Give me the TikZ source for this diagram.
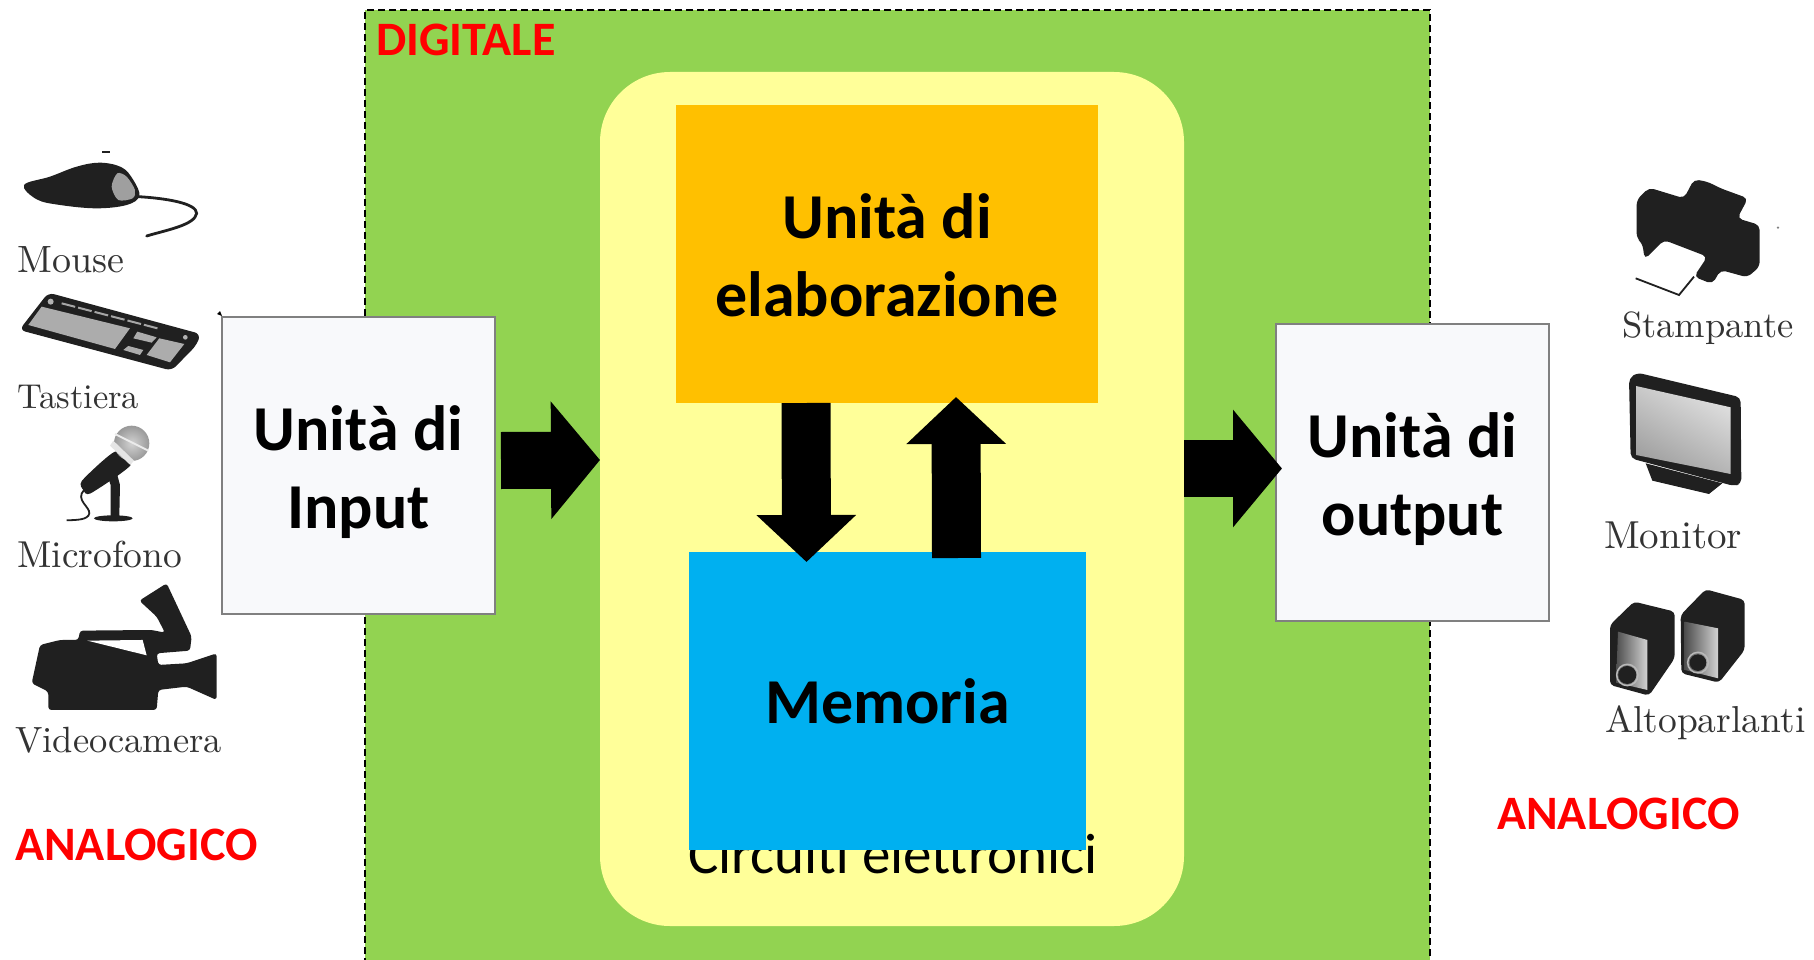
\documentclass[tikz,border=0pt]{standalone}
\usepackage{fontspec}
\usetikzlibrary{arrows.meta}
\newfontfamily\carlito{Carlito}
\newfontfamily\devfont[OpticalSize=10]{Latin Modern Roman}
\definecolor{cgreen}{HTML}{92D351}
\definecolor{cyellow}{HTML}{FFFF99}
\definecolor{corange}{HTML}{FFC000}
\definecolor{cblue}{HTML}{00B0F0}
\definecolor{cbox}{HTML}{F8F9FB}
\definecolor{ink}{HTML}{202020}
\newcommand{\tallstrut}{\rule{0pt}{59pt}}
\tikzset{
  boldlabel/.style={font=\carlito\bfseries\fontsize{64}{78}\selectfont,align=center,text=black},
  blockbox/.style={inner sep=0pt,outer sep=0pt,boldlabel},
  iobox/.style={blockbox,draw=black!50,line width=1.5pt,fill=cbox,minimum width=273pt,minimum height=297pt},
  blockarrow/.style={line width=57pt,draw=black,-{Triangle[length=49pt,width=115pt,fill=black]}},
  vblockarrow/.style={line width=49pt,draw=black,-{Triangle[length=47pt,width=97pt,fill=black]}},
  redlabel/.style={font=\carlito\bfseries\fontsize{48}{54}\selectfont,text=red,inner sep=0pt,anchor=base west},
  devlabel/.style={font=\devfont\fontsize{#1}{44}\selectfont,text=black!80,inner sep=0pt,anchor=base west},
  zoomed/.style={x=0.3333pt,y=-0.3333pt}
}
\begin{document}
\begin{tikzpicture}[x=1pt,y=-1pt]
\useasboundingbox (0,0) rectangle (1814,960);
\clip (0,0) rectangle (1814,960);
% background regions
\node[draw=black,line width=2pt,fill=cgreen,inner sep=0pt,outer sep=0pt,minimum width=1065pt,minimum height=970pt,anchor=north west,dash pattern=on 7pt off 4pt] (digital) at (365,10) {};
\node[redlabel] (dig) at (376,56) {DIGITALE};
\node[fill=cyellow,rounded corners=70pt,inner sep=0pt,outer sep=0pt,minimum width=584pt,minimum height=854pt,anchor=north west] (core) at (600,72) {};
\node[font=\carlito\fontsize{57}{70}\selectfont,inner sep=0pt,anchor=base west] (circ) at (688,873) {Circuiti elettronici};
\node[blockbox,fill=corange,minimum width=422pt,minimum height=298pt,anchor=north west] (cpu) at (676,105) {\rule{0pt}{47.5pt}Unità di\\elaborazione};
\node[blockbox,fill=cblue,minimum width=397pt,minimum height=298pt,anchor=north west] (mem) at (689,552) {Memoria};
\node[iobox,anchor=north west] (inp) at (222,317) {\tallstrut Unità di\\Input};
\node[iobox,anchor=north west] (out) at (1276,324) {\tallstrut Unità di\\output};
% block arrows
\draw[blockarrow] ([shift={(6,-5)}]inp.east) -- ([shift={(0,-39)}]core.west);
\draw[blockarrow] ([shift={(0,-30.5)}]core.east) -- ([shift={(6,-4)}]out.west);
\draw[vblockarrow] ([shift={(-81,0)}]cpu.south) -- ([shift={(-81,10)}]mem.north);
\draw[vblockarrow] ([shift={(69,6)}]mem.north) -- ([shift={(69,-6)}]cpu.south);
\fill[black] (222,316) -- (217,314) -- (220,311) -- cycle;
% labels
\node[redlabel] (al) at (15,860) {ANALOGICO};
\node[redlabel] (ar) at (1497,829) {ANALOGICO};
\node[devlabel=38] (l1) at (17,272) {Mouse};
\node[devlabel=34.5] (l2) at (17,408) {Tastiera};
\node[devlabel=37.5] (l3) at (17,567) {Microfono};
\node[devlabel=36.5] (l4) at (15,752) {Videocamera};
\node[devlabel=36.5] (r1) at (1622,337) {Stampante};
\node[devlabel=39] (r2) at (1604,548) {Monitor};
\node[devlabel=37.5] (r3) at (1605,732) {Altoparlanti};
% mouse and keyboard
\begin{scope}[shift={(0,130)},zoomed]
\fill[ink] (305,63) rectangle (330,68);
\fill[ink] plot[smooth cycle,tension=0.6] coordinates {(72,165) (150,140) (230,110) (300,98) (365,112) (400,150) (418,198) (380,225) (290,235) (180,225) (110,208)};
\fill[gray!75] plot[smooth cycle] coordinates {(352,130) (335,170) (355,210) (398,205) (405,180) (380,140)};
\draw[ink,line width=2.8pt,line cap=round] (415,200) .. controls (500,205) and (590,220) .. (590,250) .. controls (585,285) and (500,300) .. (440,318);
\fill[ink,rounded corners=6pt] (145,488) -- (602,612) -- (590,645) -- (515,722) -- (58,600) -- cycle;
\fill[gray!65] (125,530) -- (390,595) -- (345,657) -- (85,585) -- cycle;
\fill[gray!65] (478,625) -- (553,642) -- (510,697) -- (440,675) -- cycle;
\fill[gray!65] (412,605) -- (470,622) -- (455,638) -- (400,625) -- cycle;
\fill[gray!65] (385,648) -- (430,660) -- (420,675) -- (370,660) -- cycle;
\draw[gray!70,line width=2pt,dash pattern=on 14pt off 3pt] (185,520) -- (480,597);
\fill[gray!60] (152,515) circle[radius=9];
\fill[gray!60] (556,622) circle[radius=7];
\end{scope}
% microphone and camera
\begin{scope}[shift={(0,410)},zoomed]
\fill[ink] plot[smooth cycle,tension=0.4] coordinates {(246,212) (345,125) (392,165) (272,250) (250,240)};
\shade[inner color=gray!35,outer color=gray!80] (395,100) circle[radius=53];
\draw[gray!15,line width=2pt] (345,72) -- (445,122);
\fill[gray!20] (330,107) -- (391,165) -- (402,152) -- (340,92) -- cycle;
\fill[ink] (325,205) -- (352,195) -- (360,225) -- (358,318) -- (332,318) -- (332,225) -- cycle;
\fill[ink] (340,325) ellipse[x radius=58,y radius=9];
\draw[ink,line width=1.8pt] (252,240) .. controls (225,270) and (270,290) .. (268,310) .. controls (265,330) and (230,330) .. (200,331);
\fill[ink,rounded corners=3pt] (120,705) -- (180,690) -- (235,690) -- (240,662) -- (455,660) -- (495,668) -- (470,620) -- (418,572) -- (500,520) -- (575,680) -- (570,722) -- (470,730) -- (475,765) -- (560,760) -- (650,730) -- (650,870) -- (560,830) -- (475,840) -- (470,900) -- (145,900) -- (145,845) -- (95,820) -- cycle;
\fill[white] (262,692) -- (428,690) -- (440,736) -- cycle;
\end{scope}
% printer
\begin{scope}[shift={(1574,160)},zoomed]
\fill[ink,rounded corners=5pt] (188,120) -- (225,83) -- (330,115) -- (360,58) -- (400,65) -- (440,85) -- (522,115) -- (490,175) -- (557,195) -- (557,320) -- (520,352) -- (440,330) -- (415,372) -- (360,350) -- (400,290) -- (270,240) -- (212,298) -- (205,250) -- (188,235) -- cycle;
\draw[ink,line width=1.8pt] (185,355) -- (315,405) -- (360,350);
\fill[gray] (612,203) circle[radius=4];
\end{scope}
% monitor and speakers
\begin{scope}[shift={(1574,360)},zoomed]
\fill[ink] (215,310) -- (235,362) -- (405,402) -- (445,370) -- cycle;
\fill[ink,rounded corners=5pt] (165,55) -- (190,38) -- (500,112) -- (502,372) -- (480,378) -- (170,295) -- cycle;
\shade[left color=gray!25,right color=gray!75,shading angle=-30] (186,78) -- (470,142) -- (470,342) -- (186,285) -- cycle;
\fill[ink,rounded corners=4pt] (108,795) -- (180,725) -- (302,755) -- (302,895) -- (225,1007) -- (108,975) -- cycle;
\shade[left color=ink!80,right color=gray!35] (132,815) -- (220,840) -- (220,990) -- (126,968) -- cycle;
\fill[ink] (160,945) circle[radius=27];
\draw[gray!55,line width=1.5pt] (160,945) circle[radius=32];
\fill[ink,rounded corners=4pt] (320,765) -- (395,688) -- (512,720) -- (512,870) -- (435,968) -- (322,940) -- cycle;
\shade[left color=ink!80,right color=gray!35] (332,785) -- (432,805) -- (432,955) -- (332,930) -- cycle;
\fill[ink] (372,908) circle[radius=25];
\draw[gray!55,line width=1.5pt] (372,908) circle[radius=31];
\end{scope}
\end{tikzpicture}
\end{document}
